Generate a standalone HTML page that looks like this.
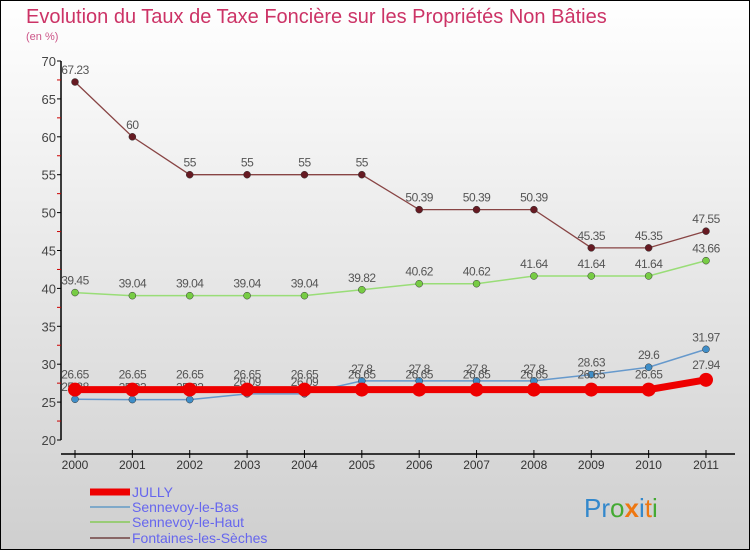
<!DOCTYPE html>
<html><head><meta charset="utf-8"><style>
body{margin:0}
#c{width:750px;height:550px;position:relative;overflow:hidden}
</style></head><body>
<div id="c">
<svg id="s" width="750" height="550" xmlns="http://www.w3.org/2000/svg" font-family="Liberation Sans, sans-serif">
<defs><linearGradient id="bg" x1="0" y1="0" x2="0" y2="1"><stop offset="0" stop-color="#ffffff"/><stop offset="1" stop-color="#cfcfcf"/></linearGradient></defs>
<rect x="0.5" y="0.5" width="749" height="549" fill="url(#bg)" stroke="#000"/>
<text x="26" y="23" font-size="20" fill="#cc3366">Evolution du Taux de Taxe Foncière sur les Propriétés Non Bâties</text>
<text x="26" y="40" font-size="11" fill="#cc5588">(en %)</text>
<g id="axes"></g><g id="series"></g>
<g>
<line x1="90" y1="492" x2="130" y2="492" stroke="#ee0000" stroke-width="7"/>
<text x="132" y="497" font-size="14" fill="#6666ee">JULLY</text>
<line x1="90" y1="507" x2="130" y2="507" stroke="#7fa9c9" stroke-width="2"/>
<text x="132" y="512" font-size="14" fill="#6666ee">Sennevoy-le-Bas</text>
<line x1="90" y1="522" x2="130" y2="522" stroke="#99cc77" stroke-width="2"/>
<text x="132" y="527" font-size="14" fill="#6666ee">Sennevoy-le-Haut</text>
<line x1="90" y1="538" x2="130" y2="538" stroke="#886666" stroke-width="2"/>
<text x="132" y="543" font-size="14" fill="#6666ee">Fontaines-les-Sèches</text>
</g>
<text x="584" y="517" font-size="26"><tspan fill="#3388cc">Pr</tspan><tspan fill="#44aa33">o</tspan><tspan fill="#ee7711" font-weight="bold">x</tspan><tspan fill="#3388cc">i</tspan><tspan fill="#ee7711">t</tspan><tspan fill="#44aa33">i</tspan></text>
</svg></div>
<script>
const years=["2000","2001","2002","2003","2004","2005","2006","2007","2008","2009","2010","2011"];
const yTicks=[20,25,30,35,40,45,50,55,60,65,70];
const jully=[26.65,26.65,26.65,26.65,26.65,26.65,26.65,26.65,26.65,26.65,26.65,27.94];
const sBas=[25.38,25.33,25.33,26.09,26.09,27.8,27.8,27.8,27.8,28.63,29.6,31.97];
const sHaut=[39.45,39.04,39.04,39.04,39.04,39.82,40.62,40.62,41.64,41.64,41.64,43.66];
const fontaines=[67.23,60,55,55,55,55,50.39,50.39,50.39,45.35,45.35,47.55];
const NS="http://www.w3.org/2000/svg";
const X=i=>75+i*(706-75)/(years.length-1);
const Y=v=>440-(v-20)*(440-61)/50;
function mk(t,a,p){const e=document.createElementNS(NS,t);for(const k in a)e.setAttribute(k,a[k]);p.appendChild(e);return e;}
const ax=document.getElementById('axes');
let l=mk('line',{x1:61,y1:61,x2:61,y2:440,stroke:'#000','stroke-width':1.5},ax);


l=mk('line',{x1:61,y1:454,x2:735,y2:454,stroke:'#000','stroke-width':1.5},ax);


yTicks.forEach(v=>{
 mk('line',{x1:57,y1:Y(v),x2:61,y2:Y(v),stroke:'#000'},ax);
 if(v<70)mk('line',{x1:57,y1:Y(v+2.5),x2:61,y2:Y(v+2.5),stroke:'#cc0000'},ax);
 const t=mk('text',{x:56,y:Y(v)+5,'font-size':13,fill:'#444','text-anchor':'end'},ax);t.textContent=v;
 
 
});
years.forEach((y,i)=>{
 mk('line',{x1:X(i),y1:450,x2:X(i),y2:458,stroke:'#000'},ax);
 const t=mk('text',{x:X(i),y:469,'font-size':12,fill:'#333','text-anchor':'middle'},ax);t.textContent=y;
 
 
});
const sg=document.getElementById('series');
function draw(name,vals,color,w,r,dot,labelDy){
 const g=mk('g',{},sg);
 
 
 mk('polyline',{points:vals.map((v,i)=>X(i)+','+Y(v)).join(' '),fill:'none',stroke:color,'stroke-width':w},g);
 vals.forEach((v,i)=>{
  const c=mk('circle',{cx:X(i),cy:Y(v),r:r,fill:dot,stroke:'#333','stroke-width':r>5?0:0.5},g);
  
  
  const t=mk('text',{x:X(i),y:Y(v)+labelDy,'font-size':12,fill:'#555','text-anchor':'middle','letter-spacing':'-0.5'},g);
  t.textContent=String(v);
 });
}
draw('fontaines',fontaines,'#884444',1.3,3.5,'#661a22',-8);
draw('sennevoy-le-haut',sHaut,'#99dd77',1.5,3.5,'#77cc44',-8);
draw('sennevoy-le-bas',sBas,'#6699cc',1.5,3.5,'#3f8ec8',-8);
draw('jully',jully,'#ee0000',7,7,'#ee0000',-11);
</script>
</body></html>
